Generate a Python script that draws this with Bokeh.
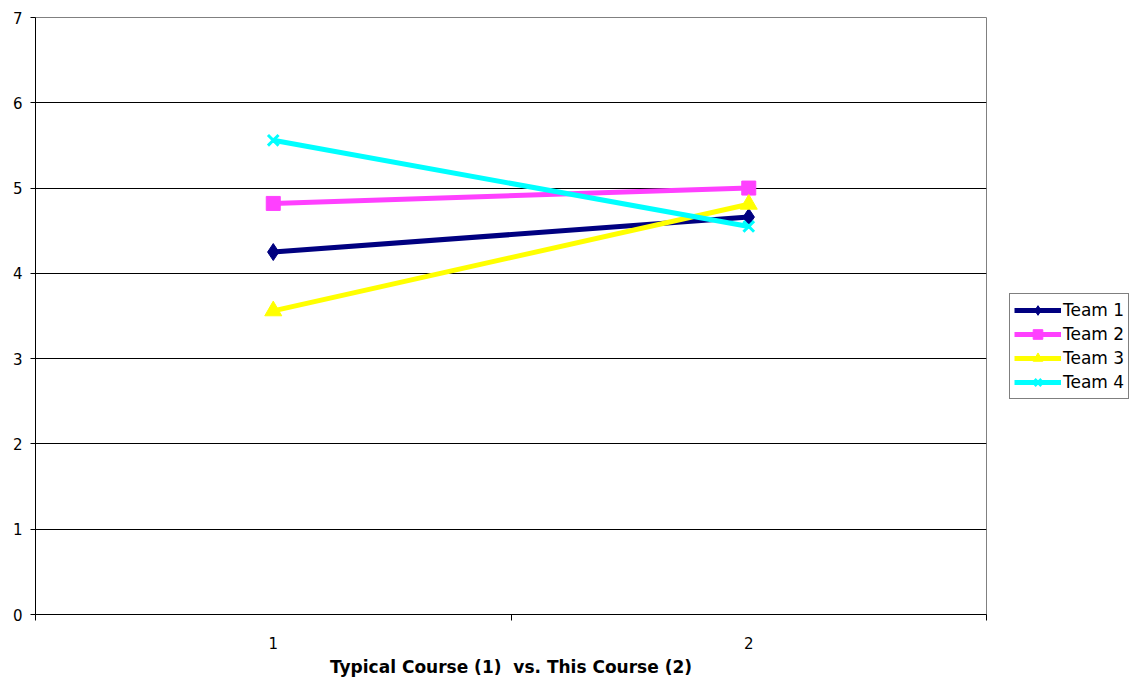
from bokeh.plotting import figure
from bokeh.layouts import row
from bokeh.models import FixedTicker, Legend, LegendItem, Range1d
from bokeh.embed import file_html
from bokeh.resources import INLINE

# Course positions and mean scores per team
courses = [1, 2]
course_labels = {1: "1", 2: "2"}
team_names = ["Team 1", "Team 2", "Team 3", "Team 4"]
team1 = [4.25, 4.66]
team2 = [4.82, 5.0]
team3 = [3.56, 4.81]
team4 = [5.56, 4.55]
y_ticks = [0, 1, 2, 3, 4, 5, 6, 7]

series = [team1, team2, team3, team4]
colors = ["#000080", "#FF40FF", "#FFFF00", "#00FFFF"]
markers = ["diamond", "square", "triangle", "x"]
marker_sizes = [17, 14, 17, 15]

FONT = "DejaVu Sans"

p = figure(width=987, height=683, output_backend="svg", toolbar_location=None,
           x_range=Range1d(0.5, 2.5), y_range=Range1d(0, 7),
           min_border_left=35, min_border_right=1, min_border_top=17,
           min_border_bottom=69)
p.background_fill_color = "white"
p.border_fill_color = "white"
p.outline_line_color = "#808080"
p.outline_line_width = 1

# Axes
p.xaxis.ticker = FixedTicker(ticks=courses, minor_ticks=[0.5, 1.5, 2.5])
p.xaxis.major_label_overrides = course_labels
p.xaxis.major_tick_out = 0
p.xaxis.major_tick_in = 0
p.xaxis.minor_tick_out = 6
p.xaxis.minor_tick_in = 0
p.xaxis.minor_tick_line_color = "black"
p.xaxis.major_label_standoff = 16
p.xaxis.axis_label = "Typical Course (1)\u00a0\u00a0vs. This Course (2)"
p.xaxis.axis_label_text_font = FONT
p.xaxis.axis_label_text_font_style = "bold"
p.xaxis.axis_label_text_font_size = "17px"
p.xaxis.axis_label_text_color = "black"
p.xaxis.axis_label_standoff = 5
p.xaxis.axis_line_color = "black"

p.yaxis.ticker = FixedTicker(ticks=y_ticks)
p.yaxis.major_tick_out = 5
p.yaxis.major_tick_in = 0
p.yaxis.minor_tick_out = 0
p.yaxis.major_label_standoff = 8
p.yaxis.axis_line_color = "black"
p.yaxis.major_tick_line_color = "black"

for ax in (p.xaxis, p.yaxis):
    ax.major_label_text_font = FONT
    ax.major_label_text_font_size = "15px"
    ax.major_label_text_color = "black"

p.xgrid.grid_line_color = None
p.ygrid.ticker = FixedTicker(ticks=y_ticks)
p.ygrid.grid_line_color = "black"
p.ygrid.grid_line_width = 1


def draw_team(fig, xs, ys, col, mk, ms):
    ln = fig.line(xs, ys, line_color=col, line_width=5)
    if mk == "x":
        sc = fig.scatter(xs, ys, marker=mk, size=ms, line_color=col, line_width=3)
    else:
        sc = fig.scatter(xs, ys, marker=mk, size=ms, fill_color=col, line_color=col)
    return ln, sc


for vals, col, mk, ms in zip(series, colors, markers, marker_sizes):
    draw_team(p, courses, vals, col, mk, ms)

# Legend panel to the right of the plot area; its key renderers sit
# outside the visible range so only their legend swatches show.
key = figure(width=150, height=683, output_backend="svg", toolbar_location=None,
             x_range=Range1d(0, 1), y_range=Range1d(0, 1),
             x_axis_type=None, y_axis_type=None,
             min_border_left=0, min_border_right=0, min_border_top=17,
             min_border_bottom=69)
key.outline_line_color = None
key.xgrid.grid_line_color = None
key.ygrid.grid_line_color = None

items = []
for name, col, mk, ms in zip(team_names, colors, markers, marker_sizes):
    ln, sc = draw_team(key, [-5, -4], [-5, -4], col, mk, ms)
    items.append(LegendItem(label=name, renderers=[ln, sc]))

legend = Legend(items=items, location=(22, 215), orientation="vertical",
                label_text_font=FONT, label_text_font_size="17px",
                label_text_color="black", glyph_width=47, glyph_height=24,
                label_height=24, spacing=0, padding=4, margin=0,
                label_standoff=2, border_line_color="black",
                border_line_width=1, background_fill_color="white",
                background_fill_alpha=1)
key.add_layout(legend, "center")

layout = row(p, key, spacing=0)
open("out.html", "w").write(file_html(layout, INLINE))
